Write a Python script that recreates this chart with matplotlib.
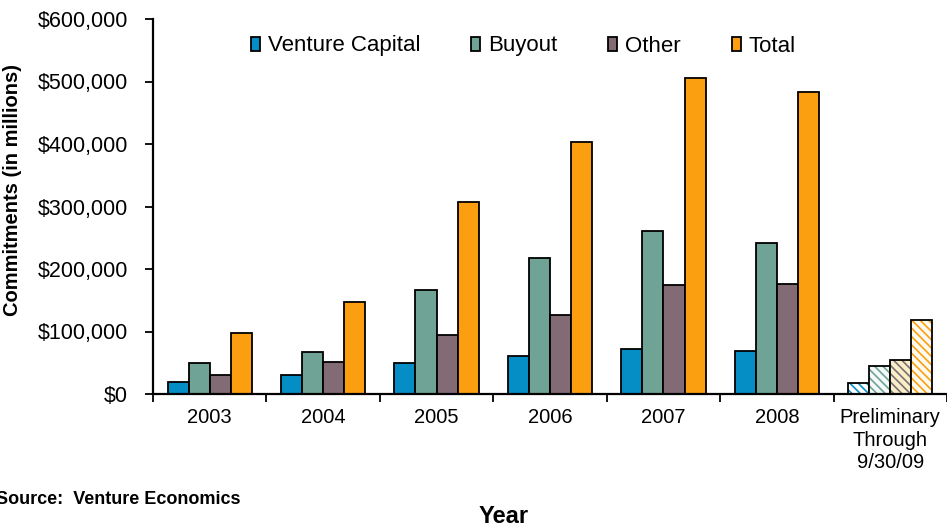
import numpy as np
import matplotlib.pyplot as plt
from matplotlib.ticker import FuncFormatter, FixedLocator

plt.rcParams['font.family'] = ['Liberation Sans', 'DejaVu Sans']
plt.rcParams['hatch.linewidth'] = 1.2

years = ['2003', '2004', '2005', '2006', '2007', '2008', 'Preliminary\nThrough\n9/30/09']
venture = [20000, 31000, 49000, 61000, 72000, 69000, 17000]
buyout = [49000, 67000, 166000, 218000, 261000, 241000, 45000]
other = [31000, 52000, 95000, 127000, 174000, 176000, 54000]
total = [98000, 148000, 308000, 404000, 506000, 483000, 118000]

series = [
    ('Venture Capital', venture, '#058ec6', '#ffffff'),
    ('Buyout', buyout, '#6ea396', '#f4f8f6'),
    ('Other', other, '#836b75', '#f7efc6'),
    ('Total', total, '#fb9f10', '#fffaf0'),
]

fig = plt.figure(figsize=(9.47, 5.28), dpi=100)
ax = fig.add_axes([153/947, 1-394/528, 794/947, 375/528])

x = np.arange(len(years))
w = 0.186
offs = (np.arange(4) - 1.5) * w

for i, (name, vals, col, bg) in enumerate(series):
    ax.bar(x[:-1] + offs[i], vals[:-1], w, color=col, edgecolor='black', lw=1.3, label=name)
    # preliminary year: hatched
    ax.bar(x[-1] + offs[i], vals[-1], w, color=bg, edgecolor=col, hatch=r'\\\\', lw=0)
    ax.bar(x[-1] + offs[i], vals[-1], w, fill=False, edgecolor='black', lw=1.3)

ax.set_xlim(-0.5, len(years) - 0.5)
ax.set_ylim(0, 600000)
ax.set_yticks(np.arange(0, 600001, 100000))
ax.yaxis.set_major_formatter(FuncFormatter(lambda v, p: '${:,.0f}'.format(v)))
ax.set_xticks(x)
ax.set_xticklabels(years, linespacing=1.25)
ax.xaxis.set_minor_locator(FixedLocator(np.arange(len(years) + 1) - 0.5))
ax.tick_params(axis='x', which='major', length=0, pad=10, labelsize=14.5)
ax.tick_params(axis='x', which='minor', length=6, width=1.3, direction='out')
ax.tick_params(axis='y', length=6, width=1.3, direction='out', pad=12, labelsize=15.5)
for s in ['top', 'right']:
    ax.spines[s].set_visible(False)
for s in ['left', 'bottom']:
    ax.spines[s].set_linewidth(1.6)

ax.set_ylabel('Commitments (in millions)', fontsize=14.5, fontweight='bold')
ax.yaxis.set_label_coords(-0.165, 0.544)
ax.set_xlabel('Year', fontsize=17, fontweight='bold')
ax.xaxis.set_label_coords((504-153)/794, (394-505)/375)

fig.text(-0.004, 1-500/528, 'Source:  Venture Economics', fontsize=13, fontweight='bold',
         ha='left', va='center')

fig.legend(loc='center left', bbox_to_anchor=(251/947, 1-46/528), ncol=4, frameon=False,
           fontsize=16, handlelength=0.4, handleheight=0.6, handletextpad=0.35,
           columnspacing=2.3, borderpad=0, borderaxespad=0)

fig.savefig('out.png', dpi=100)
